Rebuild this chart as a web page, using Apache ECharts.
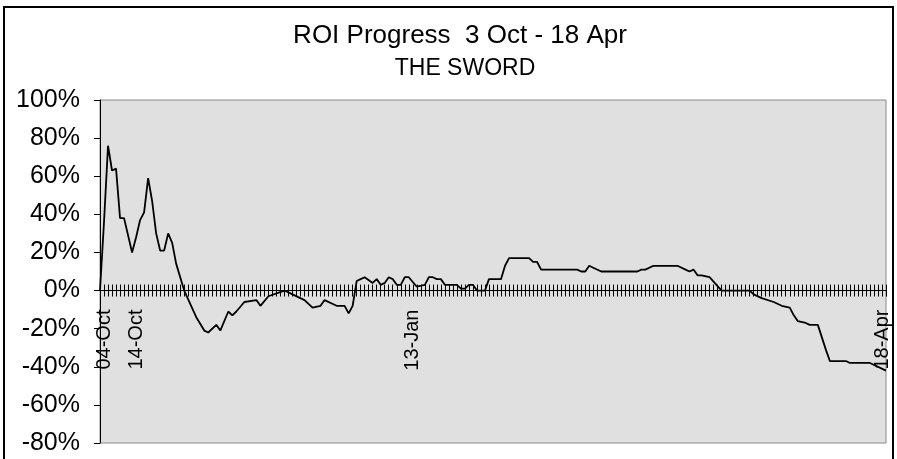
<!DOCTYPE html>
<html>
<head>
<meta charset="utf-8">
<script src="https://cdn.jsdelivr.net/npm/echarts@6/dist/echarts.min.js"></script>
<style>
  html, body { margin: 0; padding: 0; background: #fff; }
  #chart { width: 897px; height: 459px; }
</style>
</head>
<body>
<div id="chart"></div>
<script>
// position of each reading on the category axis (one step per entry)
const pointIdx = [0, 1, 2, 3, 4, 5, 6, 8, 9, 10, 11, 12, 13, 14, 15, 16, 17, 18, 19, 21,
    24, 26, 27, 29, 30, 32, 33, 34, 36, 39, 40, 42, 46, 48, 51, 53, 55, 56, 59, 61,
    62, 63, 64, 65, 66, 68, 69, 70, 71, 72, 73, 74, 75, 76, 77, 79, 81, 82, 83, 84,
    85, 86, 89, 90, 91, 92, 93, 94, 96, 97, 100, 101, 102, 107, 108, 109, 110, 119, 120, 121,
    122, 123, 125, 134, 135, 136, 138, 144, 146, 147, 148, 149, 150, 152, 155, 162, 163, 165, 168, 170,
    172, 173, 174, 176, 177, 179, 181, 182, 186, 187, 192, 196];
// ROI in %
const roiPct = [0, 36, 76, 63, 64, 38, 38, 20, 28, 37, 41, 59, 47, 30, 21, 21, 30, 25, 14, 0,
    -14, -21, -22, -18, -21, -11, -13, -11, -6, -5, -8, -3, 0, -2, -5, -9, -8, -5, -8, -8,
    -12, -8, 5, 6, 7, 4, 6, 3, 4, 7, 6, 3, 3, 7, 7, 2, 3, 7, 7, 6,
    6, 3, 3, 1, 1, 3, 3, 0, 0, 6, 6, 13, 17, 17, 15, 15, 11, 11, 10, 10,
    13, 12, 10, 10, 11, 11, 13, 13, 11, 10, 11, 8, 8, 7, 0, 0, -2, -4, -6, -8,
    -9, -13, -16, -17, -18, -18, -31, -37, -37, -38, -38, -42];
const lastIdx = 196;
const labelIdx = [0, 1, 9, 78, 195];
const labelText = ['03-Oct', '04-Oct', '14-Oct', '13-Jan', '18-Apr'];
const yMin = -80, yMax = 100;

const chart = echarts.init(document.getElementById('chart'));
const font = 'Liberation Sans, Arial, sans-serif';

// plot box (Excel style), the date axis crosses it at 0%
const gTop = 100, gBottom = 16, gLeft = 100, gRight = 11;
const plotH = 459 - gTop - gBottom;
const zeroFromTop = plotH * yMax / (yMax - yMin);
const zeroFromBottom = plotH - zeroFromTop;

const dateAxis = {
    type: 'value',
    min: 0, max: lastIdx, interval: 1,
    splitLine: {show: false},
    axisLine: {onZero: false, show: true, lineStyle: {color: '#000', width: 1}},
    axisTick: {show: true, length: 6, lineStyle: {color: '#000', width: 1}}
};

let option = {
    animation: false,
    backgroundColor: '#fff',
    title: [{
        text: 'ROI Progress  3 Oct - 18 Apr',
        left: 455,
        textAlign: 'center',
        top: 18,
        textStyle: {fontFamily: font, fontSize: 26, fontWeight: 'normal', color: '#000'}
    }, {
        text: 'THE SWORD',
        left: 460,
        textAlign: 'center',
        top: 52,
        textStyle: {fontFamily: font, fontSize: 23, fontWeight: 'normal', color: '#000'}
    }],
    graphic: [{
        type: 'rect',
        shape: {x: 4, y: 7, width: 889, height: 470},
        style: {fill: 'none', stroke: '#000', lineWidth: 2},
        silent: true
    }],
    grid: {
        left: gLeft, right: gRight, top: gTop, bottom: gBottom,
        outerBoundsMode: 'none',
        containLabel: false,
        show: true,
        backgroundColor: '#e0e0e0',
        borderColor: '#8a8a8a',
        borderWidth: 1
    },
    xAxis: [Object.assign({}, dateAxis, {
        position: 'bottom',
        offset: -zeroFromBottom,
        axisLabel: {
            rotate: 90,
            margin: 19,
            fontFamily: font,
            fontSize: 20,
            color: '#000',
            formatter: function (v) {
                const k = labelIdx.indexOf(v);
                return k >= 0 ? labelText[k] : '';
            }
        }
    }), Object.assign({}, dateAxis, {
        position: 'top',
        offset: -zeroFromTop,
        axisLabel: {show: false}
    })],
    yAxis: {
        type: 'value',
        min: yMin, max: yMax, interval: 20,
        axisLine: {show: true, onZero: false, lineStyle: {color: '#000', width: 1}},
        axisTick: {show: true, length: 6, lineStyle: {color: '#000'}},
        splitLine: {show: false},
        axisLabel: {
            margin: 20,
            fontFamily: font,
            fontSize: 25,
            color: '#000',
            formatter: '{value}%'
        }
    },
    series: [{
        name: 'ROI',
        type: 'line',
        xAxisIndex: 0,
        data: pointIdx.map((x, i) => [x, roiPct[i]]),
        showSymbol: false,
        lineStyle: {color: '#000', width: 1.8},
        z: 5
    }]
};

chart.setOption(option);
</script>
</body>
</html>
